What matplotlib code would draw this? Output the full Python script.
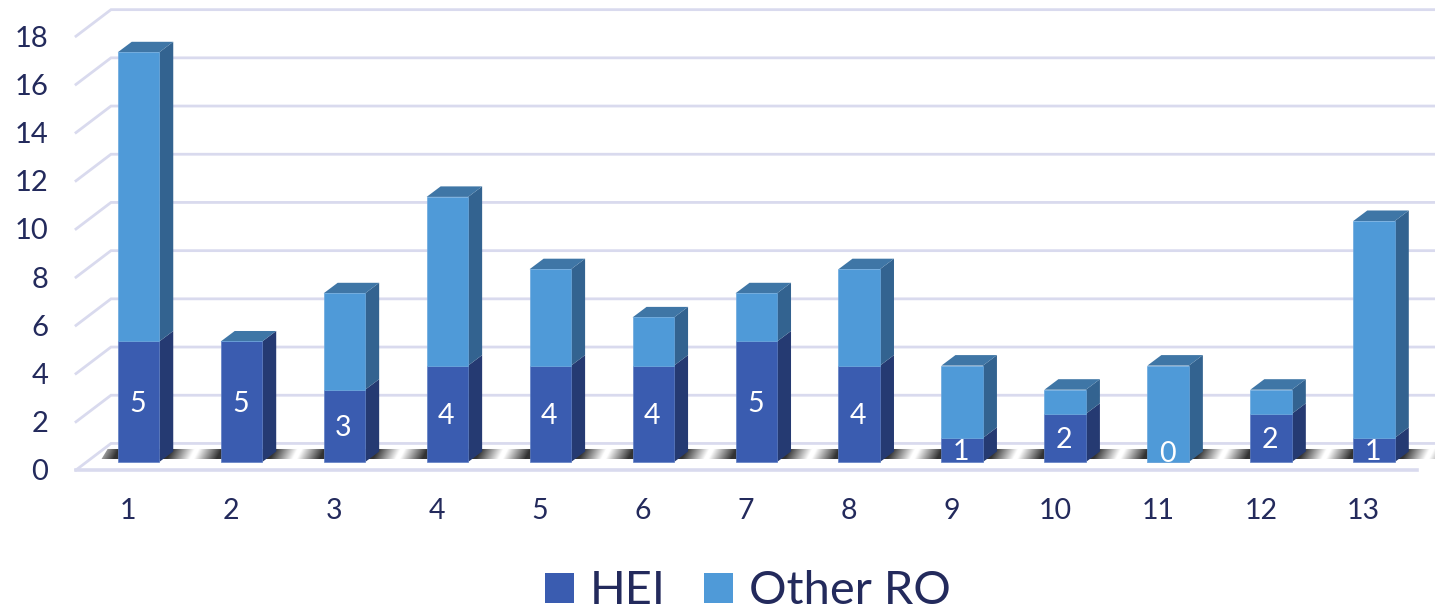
import numpy as np
import matplotlib
matplotlib.use('Agg')
import matplotlib.pyplot as plt
from matplotlib.patches import Polygon, Patch

categories = list(range(1, 14))
hei = [5, 5, 3, 4, 4, 4, 5, 4, 1, 2, 0, 2, 1]
other_ro = [12, 0, 4, 7, 4, 2, 2, 4, 3, 1, 4, 1, 9]
y_ticks = list(range(0, 19, 2))

W, H = 1435, 610
TEXT = '#232a5c'
GRID = '#d9daee'
HEI_FRONT, HEI_SIDE = '#3a5cb0', '#253a72'
RO_FRONT, RO_SIDE, RO_TOP = '#4f9ad8', '#336390', '#3f76a6'

plt.rcParams['font.family'] = ['Lato', 'DejaVu Sans']

fig = plt.figure(figsize=(W / 100, H / 100), dpi=100)
ax = fig.add_axes([76 / W, (H - 470) / H, (W - 76) / W, 470 / H])
ax.set_xlim(0.393, 13.592)
ax.set_ylim(-0.332, 19.17)
for s in ax.spines.values():
    s.set_visible(False)
ax.patch.set_visible(False)

# depth of the fake 3d, in data units
bar_w = 0.403
dx, dy = 0.136, 0.436
wall_x, wall_y = 0.733, 0.77
front_y = -0.332

# walls and floor
for v in y_ticks:
    ax.plot([0.393, wall_x, 13.592], [v + front_y, v + wall_y, v + wall_y],
            color=GRID, lw=2, zorder=1, clip_on=False, solid_joinstyle='miter')
ax.plot([0.393, 13.42], [front_y + 0.02, front_y + 0.02], color=GRID, lw=2.6, zorder=1, clip_on=False)

# shadow strip on the floor, dark next to each bar
xs = np.linspace(0.64, 13.592, 1400)
ys = np.linspace(0.12, 0.54, 12)
X, Y = np.meshgrid(xs, ys)
d = np.abs(((X + (0.54 - Y) * 0.12 - 1.07) + 0.5) % 1 - 0.5)
shade = 0.2 + 0.8 * np.clip((d - 0.26) / 0.22, 0, 1)
img = np.dstack([shade, shade, shade, np.ones_like(shade)])
im = ax.imshow(img, extent=[xs[0], xs[-1], ys[0], ys[-1]], origin='lower', aspect='auto', zorder=2,
               interpolation='bilinear')
clip = Polygon([[0.64, 0.12], [0.70, 0.54], [13.592, 0.54], [13.592, 0.12]], transform=ax.transData)
im.set_clip_path(clip)
ax.set_xlim(0.393, 13.592)
ax.set_ylim(-0.332, 19.17)

# bars
x = np.array(categories, dtype=float)
hei_a = np.array(hei, dtype=float)
ro_a = np.array(other_ro, dtype=float)
ax.bar(x, hei_a, bar_w, color=HEI_FRONT, edgecolor='#5f7fc4', lw=0.5, zorder=4)
ax.bar(x, ro_a, bar_w, bottom=hei_a, color=RO_FRONT, edgecolor='#6aa8de', lw=0.5, zorder=4)

for xi, a, b in zip(x, hei_a, ro_a):
    r = xi + bar_w / 2
    l = xi - bar_w / 2
    t = a + b
    ax.add_patch(Polygon([[r, 0], [r + dx, dy], [r + dx, a + dy], [r, a]], color=HEI_SIDE, lw=0, zorder=3))
    ax.add_patch(Polygon([[r, a], [r + dx, a + dy], [r + dx, t + dy], [r, t]], color=RO_SIDE, lw=0, zorder=3))
    ax.add_patch(Polygon([[l, t], [l + dx, t + dy], [r + dx, t + dy], [r, t]], color=RO_TOP, lw=0, zorder=3))

for xi, a in zip(x, hei_a):
    ax.text(xi - 0.01, max(a / 2, 0.42), '%d' % a, color='white', fontsize=20.5,
            ha='center', va='center_baseline', zorder=5, clip_on=True)

# ticks sit on the front edge of the floor, x labels are shifted left
ax.set_yticks([v + front_y for v in y_ticks])
ax.set_yticklabels([str(v) for v in y_ticks], fontsize=21, color=TEXT)
ax.set_xticks(x - 0.1)
ax.set_xticklabels([str(c) for c in categories], fontsize=20.5, color=TEXT)
ax.tick_params(axis='y', length=0, pad=20)
ax.tick_params(axis='x', length=0, pad=20.5)

handles = [Patch(facecolor=HEI_FRONT, lw=0, label='HEI'), Patch(facecolor=RO_FRONT, lw=0, label='Other RO')]
fig.legend(handles=handles, loc='center', bbox_to_anchor=(748 / W, (H - 591.5) / H), ncols=2, frameon=False,
           fontsize=33.8, labelcolor=TEXT, handlelength=0.62, handleheight=0.62, handletextpad=0.33,
           columnspacing=0.82, borderpad=0)

fig.savefig('out.png', dpi=100, facecolor='white')
